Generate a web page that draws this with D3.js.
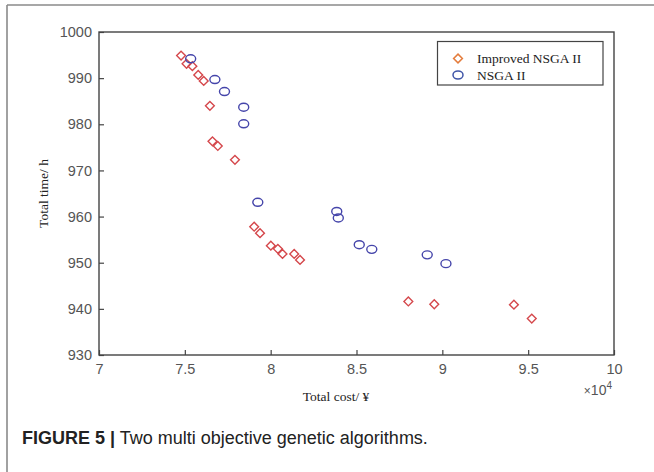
<!DOCTYPE html>
<html>
<head>
<meta charset="utf-8">
<script src="https://cdn.jsdelivr.net/npm/d3@7"></script>
<style>
  html, body { margin: 0; padding: 0; background: #fff; }
  svg { display: block; }
</style>
</head>
<body>
<svg id="chart" width="654" height="472"></svg>
<script>
// ---- data ----
const seriesNames = ["Improved NSGA II", "NSGA II"];

const improvedCost = [74780, 75100, 75440, 75780, 76100, 76460, 76610, 76920, 77920, 79040,
                      79380, 80010, 80420, 80690, 81370, 81710, 88020, 89530, 94170, 95210];
const improvedTime = [994.9, 993.1, 992.6, 990.7, 989.4, 984.0, 976.3, 975.3, 972.3, 957.8,
                      956.4, 953.7, 953.0, 951.9, 951.9, 950.6, 941.6, 941.0, 940.9, 937.9];

const nsgaCost = [75340, 76750, 77310, 78430, 78430, 79250, 83850, 83940, 85160, 85890, 89120, 90210];
const nsgaTime = [994.2, 989.7, 987.1, 983.7, 980.1, 963.1, 961.1, 959.7, 953.9, 952.9, 951.7, 949.8];

const xTicks = [70000, 75000, 80000, 85000, 90000, 95000, 100000];
const yTicks = [930, 940, 950, 960, 970, 980, 990, 1000];

const xLabel = "Total cost/ ¥";
const yLabel = "Total time/ h";
const captionBold = "FIGURE 5 |";
const captionText = " Two multi objective genetic algorithms.";

// ---- drawing ----
const svg = d3.select("#chart");
svg.append("rect").attr("width", 654).attr("height", 472).attr("fill", "#fff");

// outer figure frame (top and left edges visible)
svg.append("line").attr("x1", 7).attr("y1", 5).attr("x2", 654).attr("y2", 5)
  .attr("stroke", "#8a8a8a").attr("stroke-width", 1.6);
svg.append("line").attr("x1", 7).attr("y1", 5).attr("x2", 7).attr("y2", 472)
  .attr("stroke", "#8a8a8a").attr("stroke-width", 1.6);

const L = 99, R = 614, T = 32, B = 355;
const x = d3.scaleLinear().domain([70000, 100000]).range([L, R]);
const y = d3.scaleLinear().domain([930, 1000]).range([B, T]);

const axisColor = "#444";
const tickTextColor = "#555";

const xAxis = svg.append("g").attr("transform", `translate(0,${B})`)
  .call(d3.axisBottom(x).tickValues(xTicks).tickSizeInner(-5).tickSizeOuter(0).tickPadding(9)
        .tickFormat(d => d3.format("~g")(d / 1e4)));
const yAxis = svg.append("g").attr("transform", `translate(${L},0)`)
  .call(d3.axisLeft(y).tickValues(yTicks).tickSizeInner(-5).tickSizeOuter(0).tickPadding(7)
        .tickFormat(d3.format("d")));

[xAxis, yAxis].forEach(g => {
  g.select(".domain").remove();
  g.selectAll(".tick line").attr("stroke", axisColor).attr("stroke-width", 1.2);
  g.selectAll(".tick text").attr("fill", tickTextColor)
    .style("font-family", "'Liberation Sans', Arial, sans-serif").style("font-size", "14.5px");
});

// plot box
svg.append("rect").attr("x", L).attr("y", T).attr("width", R - L).attr("height", B - T)
  .attr("fill", "none").attr("stroke", axisColor).attr("stroke-width", 1.4);

// multiplier
const mult = svg.append("text").attr("x", 612).attr("y", 395).attr("text-anchor", "end")
  .attr("fill", tickTextColor).style("font-family", "'Liberation Sans', Arial, sans-serif")
  .style("font-size", "14px");
mult.append("tspan").text("×").style("font-size", "12px");
mult.append("tspan").text("10");
mult.append("tspan").text("4").attr("dy", -6).style("font-size", "10px");

// axis labels
svg.append("text").attr("x", 336).attr("y", 401).attr("text-anchor", "middle")
  .attr("fill", "#222").style("font-family", "'Liberation Serif', 'Times New Roman', serif")
  .style("font-size", "13.5px").text(xLabel);
svg.append("text").attr("transform", `translate(48,${(T + B) / 2}) rotate(-90)`)
  .attr("text-anchor", "middle")
  .attr("fill", "#222").style("font-family", "'Liberation Serif', 'Times New Roman', serif")
  .style("font-size", "13.5px").text(yLabel);

// markers
const diamondColor = "#d5484c";
const circleColor = "#4545aa";
const diamondPath = r => `M0,${-r}L${r},0L0,${r}L${-r},0Z`;

svg.append("g").selectAll("path").data(d3.range(improvedCost.length)).join("path")
  .attr("transform", i => `translate(${x(improvedCost[i])},${y(improvedTime[i])})`)
  .attr("d", diamondPath(4.4))
  .attr("fill", "none").attr("stroke", diamondColor).attr("stroke-width", 1.4);

svg.append("g").selectAll("ellipse").data(d3.range(nsgaCost.length)).join("ellipse")
  .attr("cx", i => x(nsgaCost[i])).attr("cy", i => y(nsgaTime[i]))
  .attr("rx", 5).attr("ry", 4)
  .attr("fill", "none").attr("stroke", circleColor).attr("stroke-width", 1.4);

// legend
const lg = svg.append("g");
lg.append("rect").attr("x", 437.5).attr("y", 41.5).attr("width", 165.5).attr("height", 43.5)
  .attr("fill", "#fff").attr("stroke", axisColor).attr("stroke-width", 1.2);
lg.append("path").attr("transform", "translate(458,58.5)").attr("d", diamondPath(4.4))
  .attr("fill", "none").attr("stroke", "#e47c3c").attr("stroke-width", 1.5);
lg.append("ellipse").attr("cx", 458).attr("cy", 75).attr("rx", 5).attr("ry", 4)
  .attr("fill", "none").attr("stroke", "#3f55a8").attr("stroke-width", 1.5);
seriesNames.forEach((name, i) => {
  lg.append("text").attr("x", 477).attr("y", 63 + i * 17).attr("fill", "#222")
    .style("font-family", "'Liberation Serif', 'Times New Roman', serif")
    .style("font-size", "13.5px").text(name);
});

// caption
const cap = svg.append("text").attr("x", 22).attr("y", 444).attr("fill", "#222")
  .style("font-family", "'Liberation Sans Narrow', 'Liberation Sans', Arial, sans-serif")
  .style("font-size", "18px");
cap.append("tspan").text(captionBold).style("font-weight", "bold");
cap.append("tspan").text(captionText);
</script>
</body>
</html>
